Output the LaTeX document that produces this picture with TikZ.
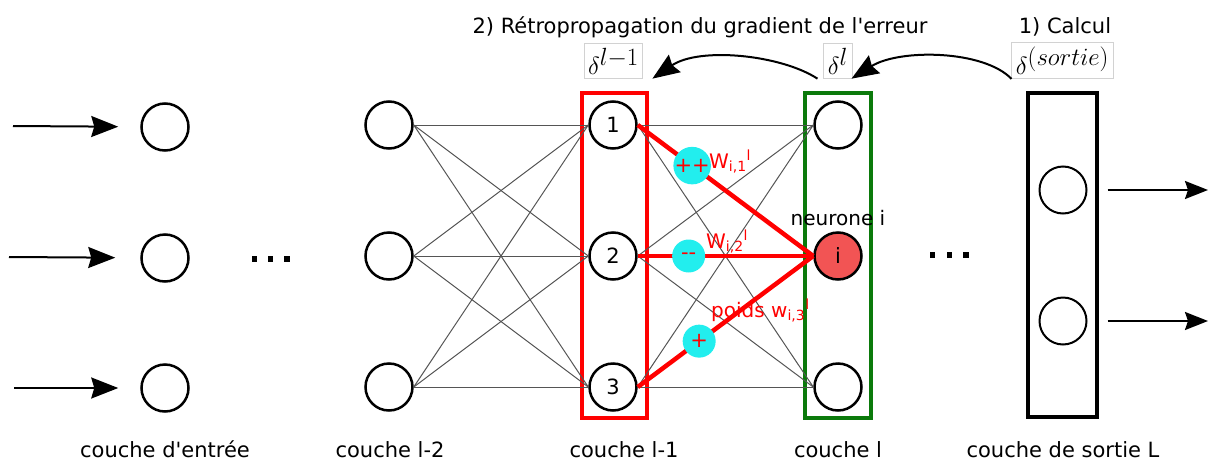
\documentclass[tikz,border=0pt]{standalone}
\usepackage{fontspec}
\newfontfamily\dv{DejaVu Sans}
\usetikzlibrary{arrows.meta}
\definecolor{nred}{HTML}{FF0000}
\definecolor{ngreen}{HTML}{0B7A0B}
\definecolor{ncyan}{HTML}{22EEEE}
\definecolor{nfill}{HTML}{F25454}
\definecolor{conncol}{HTML}{555555}
\definecolor{boxgray}{HTML}{D2D2D2}
\begin{document}
\begin{tikzpicture}[x=1pt,y=-1pt,
  neuron/.style={circle,draw,line width=2.5pt,minimum size=47pt,inner sep=0pt,font=\dv\fontsize{21}{24}\selectfont},
  conn/.style={draw=conncol,line width=1pt},
  redw/.style={draw=nred,line width=4.5pt},
  sign/.style={circle,fill=ncyan,minimum size=33pt,inner sep=0pt,text=nred,font=\dv\fontsize{21}{24}\selectfont},
  lbl/.style={font=\dv\fontsize{21}{24}\selectfont},
  bot/.style={font=\dv\fontsize{21}{24}\selectfont,anchor=base,inner sep=0pt},
  wlbl/.style={font=\dv\fontsize{20}{22}\selectfont,text=nred,anchor=base west,inner sep=0pt},
  dbox/.style={draw=boxgray,line width=1pt,inner sep=4pt,font=\fontsize{34}{40}\selectfont},
  bigarrow/.style={line width=2pt,-{Stealth[length=27pt,width=21pt,inset=3pt]}},
  layerbox/.style={minimum width=#1,minimum height=325pt,inner sep=0pt},
  dotsq/.style={fill=black,minimum size=5.5pt,inner sep=0pt},
]
\useasboundingbox (0,0) rectangle (1208,461);

% layer boxes
\node[layerbox=65pt,draw=nred,line width=3.5pt] (boxl1) at (614.5,255.5) {};
\node[layerbox=66pt,draw=ngreen,line width=3.5pt] (boxl) at (838,255.5) {};
\node[layerbox=69pt,draw=black,line width=4pt,minimum height=324pt] (boxL) at (1062.5,255) {};

% neurons
\node[neuron] (a1) at (165,127) {};
\node[neuron] (a2) at (165,258) {};
\node[neuron] (a3) at (165,388) {};
\node[neuron] (b1) at (389,125) {};
\node[neuron] (b2) at (389,256) {};
\node[neuron] (b3) at (389,387) {};
\node[neuron] (c1) at (613,125) {1};
\node[neuron] (c2) at (613,256) {2};
\node[neuron] (c3) at (613,387) {3};
\node[neuron] (d1) at (838,125) {};
\node[neuron,fill=nfill] (di) at (838,256) {i};
\node[neuron] (d3) at (838,387) {};
\node[neuron,line width=2pt] (e1) at (1063,190) {};
\node[neuron,line width=2pt] (e2) at (1063,321) {};

% dots
\node[dotsq] (p1) at (254.5,259) {};
\node[dotsq] (p2) at (270.5,259) {};
\node[dotsq] (p3) at (287,259) {};
\node[dotsq] (q1) at (932.5,255) {};
\node[dotsq] (q2) at (949.5,255) {};
\node[dotsq] (q3) at (966,255) {};

% input / output arrows
\coordinate (in1) at (13,126);
\coordinate (in2) at (9,257);
\coordinate (in3) at (14,388);
\coordinate (out1) at (1208,190);
\coordinate (out2) at (1208,321);
\draw[bigarrow,shorten >=22pt] (in1) -- (a1);
\draw[bigarrow,shorten >=25pt] (in2) -- (a2);
\draw[bigarrow,shorten >=22pt] (in3) -- (a3);
\draw[bigarrow,-{Stealth[length=23pt,width=18pt,inset=3pt]},shorten <=20pt] (e1) -- (out1);
\draw[bigarrow,-{Stealth[length=23pt,width=18pt,inset=3pt]},shorten <=20pt] (e2) -- (out2);

% thin connections
\foreach \s in {b1,b2,b3}{\foreach \t in {c1,c2,c3}{\draw[conn] (\s.east) -- (\t.west);}}
\foreach \s in {c1,c2,c3}{\foreach \t in {d1,di,d3}{\draw[conn] (\s.east) -- (\t.west);}}

% labels on weights
\node[wlbl] (w1) at (709,168) {W\textsubscript{i,1}\textsuperscript{l}};
\node[wlbl] (w2) at (706,248) {W\textsubscript{i,2}\textsuperscript{l}};
\node[wlbl] (w3) at (711,317) {poids w\textsubscript{i,3}\textsuperscript{l}};
\node[font=\dv\fontsize{20}{22}\selectfont] (ni) at (838,218) {neurone i};

% red weighted connections
\draw[redw] (c1.east) -- node[sign,pos=0.31] (s1) {++} (di.west);
\draw[redw] (c2.east) -- node[sign,pos=0.29] (s2) {--} (di.west);
\draw[redw] (c3.east) -- node[sign,pos=0.35] (s3) {+} (di.west);

% top texts
\node[lbl] (t2) at (700,27) {2) Rétropropagation du gradient de l'erreur};
\node[lbl] (t1) at (1065,27) {1) Calcul};
\node[dbox] (dl1) at (613.5,61) {$\delta^{l-1}$};
\node[dbox] (dl) at (838,61) {$\delta^{l}$};
\node[dbox] (ds) at (1062.5,60.5) {$\delta^{(sortie)}$};

\draw[line width=2pt,-{Stealth[length=27pt,width=21pt,inset=3pt]}]
  ([xshift=-6pt]dl.south west) .. controls +(-37,-24) and +(47,-32) .. ([xshift=9pt]dl1.south east);
\draw[line width=2pt,-{Stealth[length=27pt,width=21pt,inset=3pt]}]
  (ds.south west) .. controls +(-28,-29) and +(48,-30) .. ([xshift=-1pt]dl.south east);

% bottom labels
\node[bot] (L0) at (165,457) {couche d'entrée};
\node[bot] (L1) at (390,457) {couche l-2};
\node[bot] (L2) at (624,457) {couche l-1};
\node[bot] (L3) at (838,457) {couche l};
\node[bot] (L4) at (1063,457) {couche de sortie L};
\end{tikzpicture}
\end{document}
